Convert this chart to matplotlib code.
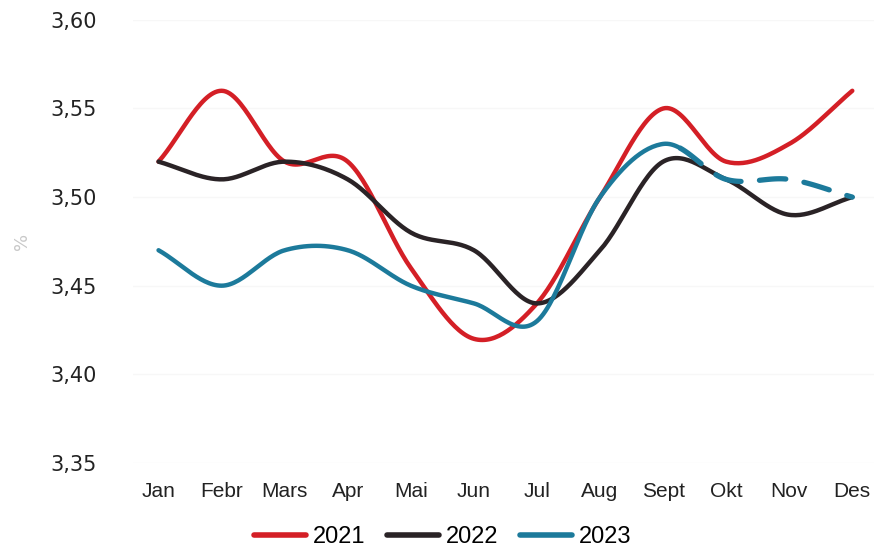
import numpy as np
import matplotlib
matplotlib.use("Agg")
import matplotlib.pyplot as plt
from matplotlib.lines import Line2D

months = ["Jan", "Febr", "Mars", "Apr", "Mai", "Jun", "Jul", "Aug", "Sept", "Okt", "Nov", "Des"]
y2021 = [3.52, 3.56, 3.52, 3.52, 3.46, 3.42, 3.44, 3.50, 3.55, 3.52, 3.53, 3.56]
y2022 = [3.52, 3.51, 3.52, 3.51, 3.48, 3.47, 3.44, 3.47, 3.52, 3.51, 3.49, 3.50]
y2023 = [3.47, 3.45, 3.47, 3.47, 3.45, 3.44, 3.43, 3.50, 3.53, 3.51, 3.51, 3.50]
forecast_start = 8  # Sept: 2023 dashed after this

RED = "#d41f26"
DARK = "#2a2326"
TEAL = "#1c7a9b"


def smooth(x, y, n=30):
    """Catmull-Rom spline through the points."""
    x = np.asarray(x, float)
    y = np.asarray(y, float)
    px = np.concatenate([[2 * x[0] - x[1]], x, [2 * x[-1] - x[-2]]])
    py = np.concatenate([[2 * y[0] - y[1]], y, [2 * y[-1] - y[-2]]])
    xs, ys = [], []
    t = np.linspace(0, 1, n, endpoint=False)
    for i in range(1, len(px) - 2):
        for p, out in ((px, xs), (py, ys)):
            p0, p1, p2, p3 = p[i - 1], p[i], p[i + 1], p[i + 2]
            out.append(0.5 * (2 * p1 + (-p0 + p2) * t
                              + (2 * p0 - 5 * p1 + 4 * p2 - p3) * t ** 2
                              + (-p0 + 3 * p1 - 3 * p2 + p3) * t ** 3))
    xs.append([x[-1]])
    ys.append([y[-1]])
    return np.concatenate(xs), np.concatenate(ys)


fig = plt.figure(figsize=(8.77, 5.53), dpi=100)
ax = fig.add_axes([0.152, 0.163, 0.845, 0.801])

x = np.arange(len(months))
lw = 3.2
sx, sy = smooth(x, y2021)
ax.plot(sx, sy, color=RED, lw=lw, solid_capstyle="round", zorder=3)
sx, sy = smooth(x, y2022)
ax.plot(sx, sy, color=DARK, lw=lw, solid_capstyle="round", zorder=3)
sx, sy = smooth(x, y2023)
solid = sx <= forecast_start + 0.25
ax.plot(sx[solid], sy[solid], color=TEAL, lw=lw, solid_capstyle="round", zorder=4)
dash = sx >= forecast_start + 0.25
ax.plot(sx[dash], sy[dash], color=TEAL, lw=lw + 0.6, linestyle=(0, (5, 3.5)),
        dash_capstyle="round", zorder=4)

ax.set_xlim(-0.4, 11.35)
ax.set_ylim(3.35, 3.60)
ax.set_yticks(np.arange(3.35, 3.601, 0.05))
ax.set_yticklabels([f"{v:.2f}".replace(".", ",") for v in np.arange(3.35, 3.601, 0.05)],
                   fontsize=15, color="#222222", family="DejaVu Sans")
ax.set_xticks(x)
ax.set_xticklabels(months, fontsize=15, color="#222222", family="Liberation Sans")
ax.tick_params(axis="both", length=0)
ax.tick_params(axis="y", pad=26)
ax.tick_params(axis="x", pad=14)
ax.grid(axis="y", color="#f7f7f7", lw=1)
ax.set_axisbelow(True)
for s in ax.spines.values():
    s.set_visible(False)
ax.set_ylabel("%", color="#c8c8c8", fontsize=13, labelpad=14)

handles = [Line2D([], [], color=c, lw=4, solid_capstyle="round") for c in (RED, DARK, TEAL)]
fig.legend(handles, ["2021", "2022", "2023"], loc="lower center", bbox_to_anchor=(0.505, -0.03),
           ncol=3, frameon=False, handlelength=2.2, handletextpad=0.3, columnspacing=0.9,
           prop={"family": "Liberation Sans", "size": 17})

fig.savefig("out.png", dpi=100)
